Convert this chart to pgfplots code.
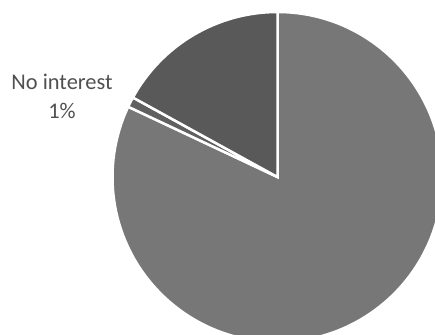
\documentclass[border=0pt]{standalone}
\usepackage{pgfplots}
\usepackage{pgfplotstable}
\pgfplotsset{compat=1.18}
\usepackage{fontspec}
\setmainfont{Carlito}
\definecolor{cBig}{HTML}{777777}
\definecolor{cSmall}{HTML}{606060}
\definecolor{cDark}{HTML}{595959}
\definecolor{cText}{HTML}{505050}
\pgfplotstableread{
label value
Main 82
Nointerest 1
Other 17
}\pietable
\begin{document}
\begin{tikzpicture}
\useasboundingbox (0,0) rectangle (435bp,335bp);
\clip (0,0) rectangle (435bp,335bp);
\begin{axis}[at={(0,0)}, anchor=south west, width=435bp, height=335bp, scale only axis,
  xmin=0, xmax=435, ymin=0, ymax=335, hide axis, clip=false]
\pgfplotstablegetelem{0}{value}\of\pietable \pgfmathsetmacro\va{\pgfplotsretval}
\pgfplotstablegetelem{1}{value}\of\pietable \pgfmathsetmacro\vb{\pgfplotsretval}
\pgfplotstablegetelem{2}{value}\of\pietable \pgfmathsetmacro\vc{\pgfplotsretval}
\pgfmathsetmacro\aA{90-3.6*\va}
\pgfmathsetmacro\aB{\aA-3.6*\vb}
\pgfmathsetmacro\aC{\aB-3.6*\vc}
\fill[cBig, draw=white, line width=2.5bp, line join=miter] (axis cs:277.5,158) -- ++(90:165bp) arc[start angle=90, end angle=\aA, radius=165bp] -- cycle;
\fill[cSmall, draw=white, line width=2.5bp] (axis cs:277.5,158) -- ++(\aA:165bp) arc[start angle=\aA, end angle=\aB, radius=165bp] -- cycle;
\fill[cDark, draw=white, line width=2.5bp] (axis cs:277.5,158) -- ++(\aB:165bp) arc[start angle=\aB, end angle=\aC, radius=165bp] -- cycle;
\node[text=cText, align=center, inner sep=0pt, font=\fontsize{22.5}{29}\selectfont] at (axis cs:62,239) {No interest\\1\%};
\end{axis}
\end{tikzpicture}
\end{document}
